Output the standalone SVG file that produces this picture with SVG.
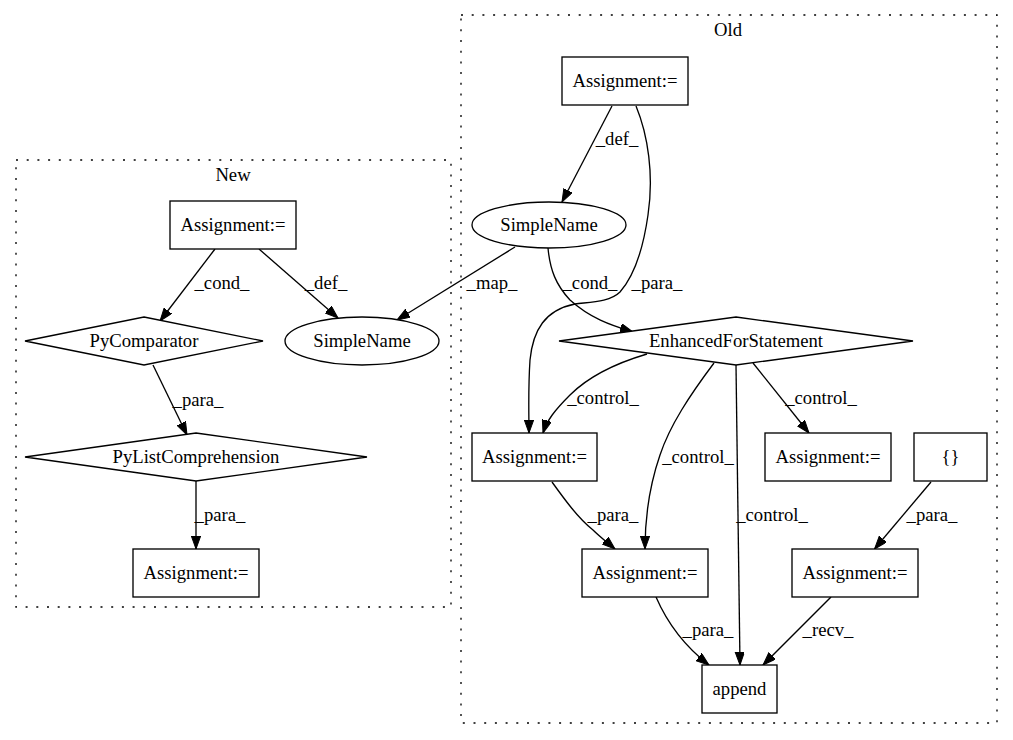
<svg xmlns="http://www.w3.org/2000/svg" width="1013" height="740" viewBox="0 0 1013 740">
<style>
text{font-family:"Liberation Serif","Times New Roman",serif;font-size:18.67px;fill:#000;text-anchor:middle}
.n{fill:#fff;stroke:#000;stroke-width:1.33}
.c{fill:none;stroke:#000;stroke-width:1.33;stroke-dasharray:2,8.7}
.e{fill:none;stroke:#000;stroke-width:1.33;marker-end:url(#a)}
</style>
<defs>
<marker id="a" markerUnits="userSpaceOnUse" markerWidth="14" markerHeight="10" refX="13" refY="4.67" orient="auto">
<path d="M0,0 L13,4.67 L0,9.33 z" fill="#000" stroke="#000" stroke-width="1"/>
</marker>
</defs>
<rect width="1013" height="740" fill="#fff"/>
<g id="cluster_new">
<rect class="c" x="16" y="160" width="435" height="447"/>
<text x="233" y="181">New</text>
</g>
<g id="cluster_old">
<rect class="c" x="461" y="15" width="536" height="708"/>
<text x="728" y="36">Old</text>
</g>
<g id="connectors">
<path class="e" d="M215,249 L160,321"/>
<text x="222" y="289">_cond_</text>
<path class="e" d="M259,249 L338,318"/>
<text x="326" y="289">_def_</text>
<path class="e" d="M515,247 L397,320"/>
<text x="492" y="289">_map_</text>
<path class="e" d="M153,365 L187,435"/>
<text x="198" y="406">_para_</text>
<path class="e" d="M196,481 L196,549"/>
<text x="220" y="521">_para_</text>
<path class="e" d="M612,106 L562,202"/>
<text x="617" y="145">_def_</text>
<path class="e" d="M636,106 C648,135 654,175 648,215 C643,250 635,275 620,292 C610,302 590,302 575,304 C545,310 533,330 530,360 C528,390 529,415 529,433"/>
<text x="657" y="289">_para_</text>
<path class="e" d="M548,248 C550,270 556,285 570,300 C590,318 610,325 633,332"/>
<text x="590" y="289">_cond_</text>
<path class="e" d="M647,354 C620,362 590,375 570,395 C555,410 547,420 543,433"/>
<text x="603" y="404">_control_</text>
<path class="e" d="M714,363 C690,395 670,425 660,455 C648,490 645,520 645,549"/>
<text x="698" y="463">_control_</text>
<path class="e" d="M736,365 L740,665"/>
<text x="772" y="521">_control_</text>
<path class="e" d="M753,363 L809,433"/>
<text x="821" y="404">_control_</text>
<path class="e" d="M931,482 L874.5,549"/>
<text x="932" y="521">_para_</text>
<path class="e" d="M552,482 C565,500 578,518 593,530 C600,537 608,543 615,549"/>
<text x="613" y="521">_para_</text>
<path class="e" d="M656,597 C666,620 683,645 709,665"/>
<text x="708" y="636">_para_</text>
<path class="e" d="M831,597 L763,665"/>
<text x="828" y="636">_recv_</text>
</g>
<g id="new_assign_top"><rect class="n" x="170" y="201" width="126" height="48"/><text x="233" y="231">Assignment:=</text></g>
<g id="new_pycomparator"><polygon class="n" points="144,317 263,341 144,365 25,341"/><text x="144" y="347">PyComparator</text></g>
<g id="new_simplename"><ellipse class="n" cx="362" cy="341" rx="77" ry="24"/><text x="362" y="347">SimpleName</text></g>
<g id="new_pylistcomp"><polygon class="n" points="196,433 367,457 196,481 25,457"/><text x="196" y="463">PyListComprehension</text></g>
<g id="new_assign_bottom"><rect class="n" x="133" y="549" width="126" height="48"/><text x="196" y="579">Assignment:=</text></g>
<g id="old_assign_top"><rect class="n" x="562" y="57" width="126" height="48"/><text x="625" y="87">Assignment:=</text></g>
<g id="old_simplename"><ellipse class="n" cx="549" cy="225" rx="77" ry="23"/><text x="549" y="231">SimpleName</text></g>
<g id="old_enhancedfor"><polygon class="n" points="736,317 913,341 736,365 559,341"/><text x="736" y="347">EnhancedForStatement</text></g>
<g id="old_assign_a"><rect class="n" x="472" y="433" width="125" height="48"/><text x="534.5" y="463">Assignment:=</text></g>
<g id="old_assign_b"><rect class="n" x="765" y="433" width="126" height="48"/><text x="828" y="463">Assignment:=</text></g>
<g id="old_braces"><rect class="n" x="914" y="433" width="73" height="48"/><text x="950.5" y="463">{}</text></g>
<g id="old_assign_c"><rect class="n" x="582" y="549" width="126" height="48"/><text x="645" y="579">Assignment:=</text></g>
<g id="old_assign_d"><rect class="n" x="792" y="549" width="126" height="48"/><text x="855" y="579">Assignment:=</text></g>
<g id="old_append"><rect class="n" x="702" y="665" width="75" height="48"/><text x="739.5" y="695">append</text></g>
</svg>
